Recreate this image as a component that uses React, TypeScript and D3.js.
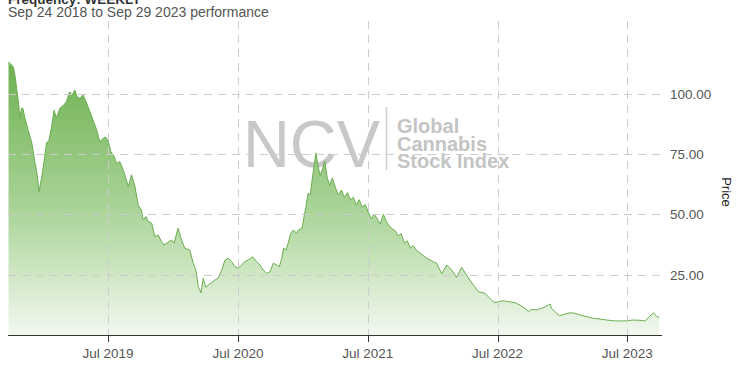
import React from "react";
import * as d3 from "d3";

const dates: string[] = [
  "2018-09-24","2018-10-01","2018-10-08","2018-10-12","2018-10-17","2018-10-22","2018-10-26","2018-10-31",
  "2018-11-04","2018-11-09","2018-11-18","2018-11-28","2018-12-07","2018-12-14","2018-12-19","2018-12-26",
  "2019-01-02","2019-01-09","2019-01-16","2019-01-23","2019-01-30","2019-02-06","2019-02-16","2019-02-25",
  "2019-03-06","2019-03-15","2019-03-22","2019-03-30","2019-04-05","2019-04-13","2019-04-22","2019-05-02",
  "2019-05-11","2019-05-20","2019-05-30","2019-06-08","2019-06-17","2019-06-24","2019-07-02","2019-07-09",
  "2019-07-19","2019-07-25","2019-08-03","2019-08-13","2019-08-22","2019-08-27","2019-09-05","2019-09-14",
  "2019-09-24","2019-10-03","2019-10-08","2019-10-16","2019-10-22","2019-11-01","2019-11-10","2019-11-19",
  "2019-11-29","2019-12-05","2019-12-13","2019-12-27","2020-01-03","2020-01-14","2020-01-24","2020-02-02",
  "2020-02-16","2020-02-26","2020-03-04","2020-03-11","2020-03-19","2020-03-25","2020-04-01","2020-04-08",
  "2020-04-18","2020-04-27","2020-05-06","2020-05-16","2020-05-25","2020-06-03","2020-06-13","2020-06-22",
  "2020-07-01","2020-07-11","2020-07-20","2020-07-29","2020-08-11","2020-08-22","2020-09-01","2020-09-10",
  "2020-09-20","2020-09-29","2020-10-08","2020-10-18","2020-10-25","2020-11-01","2020-11-06","2020-11-13",
  "2020-11-19","2020-11-26","2020-12-04","2020-12-12","2020-12-18","2020-12-28","2021-01-01","2021-01-08",
  "2021-01-14","2021-01-20","2021-01-27","2021-02-05","2021-02-11","2021-02-17","2021-02-24","2021-03-02",
  "2021-03-09","2021-03-16","2021-03-23","2021-04-01","2021-04-09","2021-04-18","2021-04-26","2021-05-05",
  "2021-05-13","2021-05-21","2021-05-30","2021-06-07","2021-06-15","2021-06-24","2021-07-02","2021-07-11",
  "2021-07-19","2021-07-28","2021-08-05","2021-08-14","2021-08-22","2021-08-31","2021-09-08","2021-09-17",
  "2021-09-25","2021-10-03","2021-10-12","2021-10-20","2021-10-29","2021-11-06","2021-11-15","2021-11-26",
  "2021-12-14","2022-01-01","2022-01-11","2022-01-25","2022-02-08","2022-02-22","2022-03-08","2022-03-22",
  "2022-04-05","2022-04-24","2022-05-08","2022-05-27","2022-06-15","2022-06-24","2022-07-03","2022-07-17",
  "2022-07-31","2022-08-19","2022-09-02","2022-09-16","2022-09-26","2022-10-05","2022-10-19","2022-11-07",
  "2022-11-26","2022-11-30","2022-12-14","2022-12-23","2023-01-07","2023-01-21","2023-02-04","2023-02-18",
  "2023-03-09","2023-03-28","2023-04-16","2023-05-04","2023-05-23","2023-06-11","2023-06-30","2023-07-18",
  "2023-08-06","2023-08-20","2023-09-01","2023-09-13","2023-09-22","2023-09-29"
];

const prices: number[] = [
  113,112,111,107.7,102,96.6,90,94,
  93.6,90,85,80,71.8,66,59.3,65,
  71.8,79.5,80.7,86,93,90,94,95,
  96.6,100.7,99.4,101.4,98.7,98,99.4,96,
  92.5,89,85,80,81.4,82,80,75.9,
  73.8,71,71.8,68.3,64,61.4,66.3,62,
  53.8,51.8,47.6,49,47,46.3,40.7,41.4,
  38.6,37.3,38,39.3,38,44.2,39.3,35.9,
  35.2,29.7,26.9,20,17.5,23.5,19.7,20.7,
  21.7,22.8,23.5,26.9,31,31.8,30.4,28.3,
  27.6,29,30.4,31,32.4,30.4,29,26.9,
  25.5,26.2,29.7,29,28.3,31.8,35.9,35.2,
  38,42.1,43.5,42.1,43.5,44.2,47.6,53.1,
  58.7,58,66,75.4,70,66,69,72,
  65,62,65,61,58,60,57,59,
  56,57,54,56,53,54,51,48,
  50,48,46,50,47,45,44,43,
  41,42,38,39,36,37,35,33.8,
  31.8,30.4,29.7,25.3,29,26.9,23.9,28,
  24.8,20.7,17.9,17.3,14.2,13.4,13.8,14.2,
  13.8,13.4,12.4,11,9.7,10.6,10.4,11.3,
  12.8,11,9,8,8.7,9.2,9,8.3,
  7.6,6.9,6.6,6.2,5.9,5.8,5.9,6.2,
  6.1,5.8,7.6,9.2,7.6,7.3
];

const xTickDates: string[] = ["2019-07-01", "2020-07-01", "2021-07-01", "2022-07-01", "2023-07-01"];
const yTicks: number[] = [25, 50, 75, 100];
const titleText = "Sep 24 2018 to Sep 29 2023 performance";
const topText = "Frequency: WEEKLY";
const yAxisTitle = "Price";
const logoBig = "NCV";
const logoLines: string[] = ["Global", "Cannabis", "Stock Index"];

const parse = d3.utcParse("%Y-%m-%d");

export default function App() {
  const W = 736, H = 366;
  const left = 8, right = 662, top = 21, bottom = 335;
  const data = dates.map((d, i) => ({ date: parse(d) as Date, value: prices[i] }));
  const x = d3.scaleUtc()
    .domain([parse("2018-09-24") as Date, parse("2023-09-29") as Date])
    .range([8.5, 659.2]);
  const y = d3.scaleLinear().domain([0, 130]).range([bottom, bottom - 130 * 2.415]);
  const area = d3.area<{ date: Date; value: number }>()
    .x(d => x(d.date)).y0(bottom).y1(d => y(d.value));
  const line = d3.line<{ date: Date; value: number }>()
    .x(d => x(d.date)).y(d => y(d.value));
  const fmt = d3.utcFormat("%b %Y");
  const font = "Arial, 'Liberation Sans', Helvetica, sans-serif";
  const xt = xTickDates.map(s => parse(s) as Date);

  return (
    <div style={{ position: "absolute", left: 0, top: 0 }}>
      <svg width={W} height={H} style={{ display: "block", fontFamily: font }}>
        <defs>
          <linearGradient id="fillGrad" gradientUnits="userSpaceOnUse" x1="0" x2="0" y1={y(115)} y2={bottom}>
            <stop offset="0" stopColor="rgb(108,176,80)" />
            <stop offset="0.55" stopColor="rgb(170,212,152)" />
            <stop offset="1" stopColor="rgb(242,248,239)" />
          </linearGradient>
        </defs>
        <rect x={0} y={0} width={W} height={H} fill="#fff" />
        <text x={8} y={3.5} fontSize={13.5} fontWeight="bold" fill="#333">{topText}</text>
        <text x={8} y={17} fontSize={14} fill="#555">{titleText}</text>

        {/* logo */}
        <g fill="#c8c8c8">
          <text x={243} y={167} fontSize={67} textLength={137} lengthAdjust="spacingAndGlyphs">{logoBig}</text>
          <line x1={386.5} x2={386.5} y1={107} y2={170} stroke="#cfcfcf" strokeWidth={1.5} />
          {logoLines.map((t, i) => (
            <text key={t} x={397} y={133 + i * 17.5} fontSize={20} fontWeight="bold" fill="#c4c4c4">{t}</text>
          ))}
        </g>

        <path d={area(data) || ""} fill="url(#fillGrad)" />
        <path d={line(data) || ""} fill="none" stroke="#6aae50" strokeWidth={1} />

        {/* grid */}
        <g stroke="#cccccc" strokeWidth={1} strokeDasharray="8,6">
          {xt.map((d, i) => (
            <line key={"gx" + i} x1={Math.round(x(d)) + 0.5} x2={Math.round(x(d)) + 0.5} y1={top} y2={bottom} />
          ))}
          {yTicks.map(v => (
            <line key={"gy" + v} x1={left} x2={right} y1={Math.round(y(v)) + 0.5} y2={Math.round(y(v)) + 0.5} />
          ))}
        </g>

        {/* x axis */}
        <line x1={left} x2={right} y1={bottom + 0.5} y2={bottom + 0.5} stroke="#333" strokeWidth={1} />
        {xt.map((d, i) => (
          <g key={"xt" + i}>
            <line x1={Math.round(x(d)) + 0.5} x2={Math.round(x(d)) + 0.5} y1={bottom} y2={bottom + 7} stroke="#333" />
            <text x={x(d)} y={358} fontSize={13.5} fill="#555" textAnchor="middle">{fmt(d)}</text>
          </g>
        ))}

        {/* y labels */}
        {yTicks.map(v => (
          <text key={"yl" + v} x={670} y={y(v) + 5} fontSize={13.5} fill="#555">{v.toFixed(2)}</text>
        ))}
        <text transform="translate(722,192) rotate(90)" fontSize={13} fill="#222" textAnchor="middle">{yAxisTitle}</text>
      </svg>
    </div>
  );
}
